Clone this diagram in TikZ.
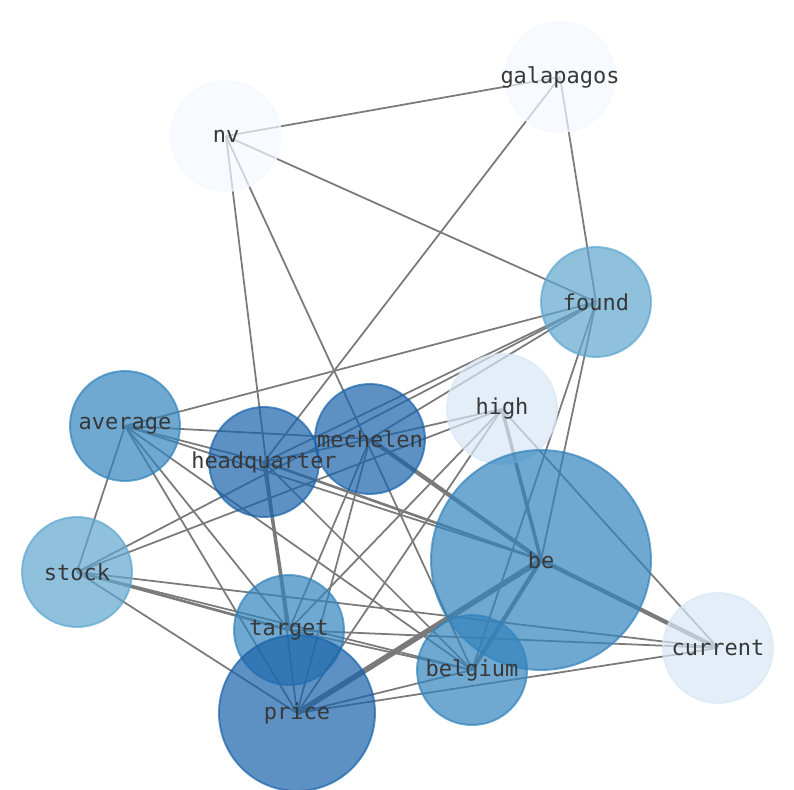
\documentclass[tikz,border=0pt]{standalone}
\usepackage{fontspec}
\setmonofont{DejaVu Sans Mono}
\usetikzlibrary{backgrounds}
\definecolor{tone0}{HTML}{F4F8FD}
\definecolor{tone1}{HTML}{D8E7F5}
\definecolor{tone2}{HTML}{5FA6CF}
\definecolor{tone3}{HTML}{3283BC}
\definecolor{tone4}{HTML}{1A63AA}
\definecolor{linkgray}{HTML}{7A7A7A}
\definecolor{wordgray}{HTML}{383838}
\pgfdeclarelayer{links}
\pgfdeclarelayer{discs}
\pgfsetlayers{links,discs,main}
\tikzset{
  graph/.style={
	x=0.02cm, y=-0.02cm, % one unit is one pixel of the layout
	every edge/.append style={draw=linkgray, line width=1pt}, % thin links
	word/.style={font=\fontsize{12.5}{14}\selectfont\ttfamily, text=wordgray, inner sep=0pt}, % the labels
	disc/.style={fill=##1, draw=##1, fill opacity=0.7, draw opacity=0.7, line width=1.1pt}, % the bubbles
	w2/.style={line width=1.5pt}, % a bit heavier
	w3/.style={line width=2pt},
	w4/.style={line width=2.4pt},
	w5/.style={line width=3.2pt}, % heaviest
  }
}

\begin{document}
\begin{tikzpicture}[graph]
	\useasboundingbox (0,0) rectangle (794,790);
	\node[word] (galapagos) at (560,77) {galapagos};
	\node[word] (nv) at (226,136) {nv};
	\node[word] (found) at (596,302) {found};
	\node[word] (high) at (502,409) {high};
	\node[word] (average) at (125,426) {average};
	\node[word] (mechelen) at (370,439) {mechelen};
	\node[word] (headquarter) at (264,462) {headquarter};
	\node[word] (be) at (541,560) {be};
	\node[word] (stock) at (77,572) {stock};
	\node[word] (target) at (289,630) {target};
	\node[word] (current) at (718,648) {current};
	\node[word] (belgium) at (472,670) {belgium};
	\node[word] (price) at (297,713) {price};

	\begin{pgfonlayer}{discs}
		\foreach \n/\c in {galapagos/tone0, nv/tone0, found/tone2, high/tone1, average/tone3,
			mechelen/tone4, headquarter/tone4, stock/tone2, current/tone1, belgium/tone3, target/tone3}
			\path[disc=\c] (\n.center) circle[radius=1.1cm];
		\path[disc=tone3] (be.center) circle[radius=2.2cm];
		\path[disc=tone4] (price.center) circle[radius=1.56cm];
	\end{pgfonlayer}

	\begin{pgfonlayer}{links}
	\draw   (nv.center) edge (galapagos.center)
		(nv.center) edge (found.center)
		(nv.center) edge (price.center)
		(nv.center) edge (belgium.center)
		(galapagos.center) edge (found.center)
		(galapagos.center) edge (headquarter.center)
		(found.center) edge (average.center)
		(found.center) edge (headquarter.center)
		(found.center) edge (mechelen.center)
		(found.center) edge (stock.center)
		(found.center) edge (be.center)
		(found.center) edge (belgium.center)
		(high.center) edge[w3] (be.center)
		(high.center) edge (current.center)
		(high.center) edge (stock.center)
		(high.center) edge (target.center)
		(high.center) edge (price.center)
		(high.center) edge (mechelen.center)
		(average.center) edge (mechelen.center)
		(average.center) edge (headquarter.center)
		(average.center) edge (be.center)
		(average.center) edge (belgium.center)
		(average.center) edge (target.center)
		(average.center) edge (price.center)
		(average.center) edge (stock.center)
		(mechelen.center) edge (headquarter.center)
		(mechelen.center) edge[w4] (be.center)
		(mechelen.center) edge (target.center)
		(mechelen.center) edge (price.center)
		(headquarter.center) edge[w3] (target.center)
		(headquarter.center) edge[w2] (be.center)
		(headquarter.center) edge (belgium.center)
		(be.center) edge[w4] (current.center)
		(be.center) edge[w5] (price.center)
		(be.center) edge[w4] (belgium.center)
		(stock.center) edge[w2] (target.center)
		(stock.center) edge (belgium.center)
		(stock.center) edge (current.center)
		(stock.center) edge (price.center)
		(target.center) edge (current.center)
		(target.center) edge (belgium.center)
		(price.center) edge (current.center)
		(price.center) edge (belgium.center)
	;
	\end{pgfonlayer}
\end{tikzpicture}
\end{document}
